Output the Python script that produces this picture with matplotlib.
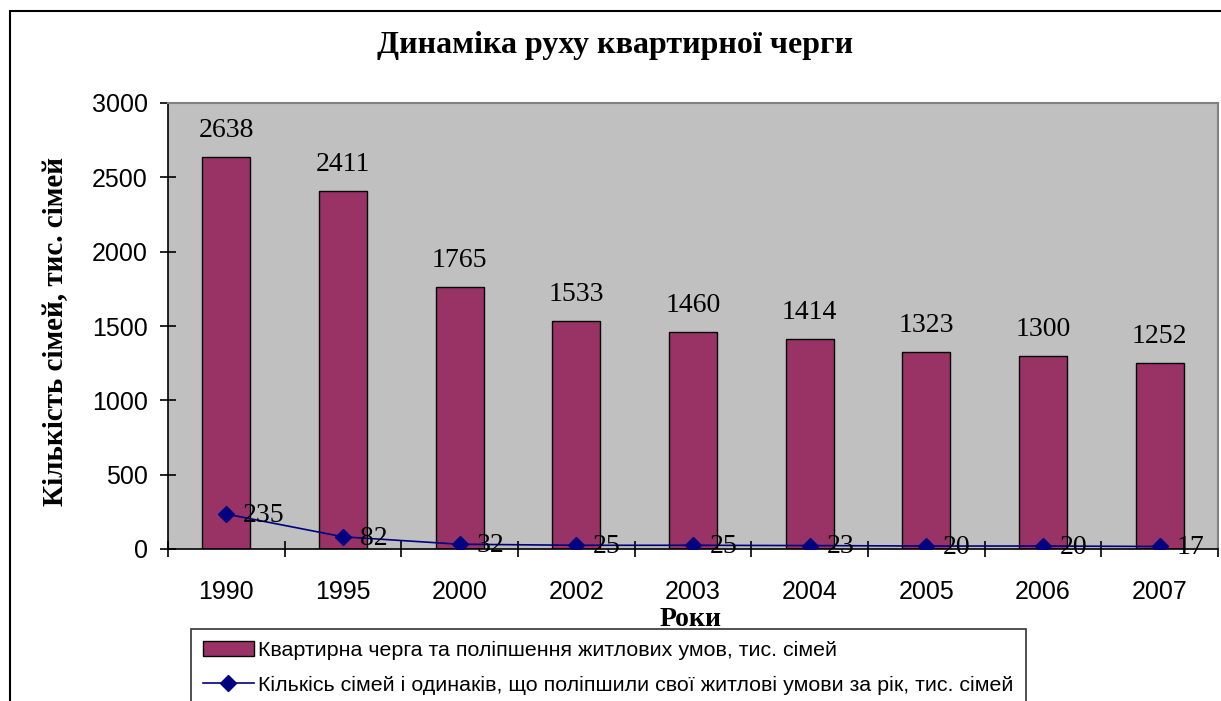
import matplotlib
matplotlib.use("Agg")
import matplotlib.pyplot as plt
from matplotlib.patches import Rectangle
from matplotlib.lines import Line2D

# ── data ──────────────────────────────────────────────────────────────────────
years = ["1990", "1995", "2000", "2002", "2003", "2004", "2005", "2006", "2007"]
queue = [2638, 2411, 1765, 1533, 1460, 1414, 1323, 1300, 1252]
improved = [235, 82, 32, 25, 25, 23, 20, 20, 17]

title = "Динаміка руху квартирної черги"
ylabel = "Кількість сімей, тис. сімей"
xlabel = "Роки"
bar_name = "Квартирна черга та поліпшення житлових умов, тис. сімей"
line_name = "Кількісь сімей і одинаків, що поліпшили свої житлові умови за рік, тис. сімей"

SERIF = ["Liberation Serif", "DejaVu Serif"]
SANS = ["Liberation Sans", "DejaVu Sans"]
NARROW = ["Liberation Sans Narrow", "Liberation Sans", "DejaVu Sans"]

W, H = 1221, 701
fig = plt.figure(figsize=(W / 100, H / 100), dpi=100)
fig.patch.set_facecolor("white")

# outer chart frame (cut at right and bottom like the original)
fig.patches.append(Rectangle((10 / W, -0.05), 1.2, 1 - 11 / H + 0.05,
                             transform=fig.transFigure, fill=False,
                             edgecolor="black", lw=1.5, clip_on=False))

ax = fig.add_axes([168 / W, (H - 549) / H, 1050 / W, 446 / H])
ax.set_facecolor("#C0C0C0")

x = list(range(len(years)))
ax.bar(x, queue, width=0.41, color="#993366", edgecolor="black", lw=1, zorder=2)
ax.plot(x, improved, color="#000080", lw=1.2, marker="D", ms=8,
        markerfacecolor="#000080", zorder=3)

for xi, v in zip(x, queue):
    ax.annotate(str(v), (xi, v), xytext=(0, 19), textcoords="offset points",
                ha="center", va="center", fontsize=20, family=SERIF, zorder=4)
for xi, v in zip(x, improved):
    ax.annotate(str(v), (xi, v), xytext=(12, -1), textcoords="offset points",
                ha="left", va="center", fontsize=20, family=SERIF, zorder=4)

ax.set_xlim(-0.5, len(years) - 0.5)
ax.set_ylim(0, 3000)
ax.set_yticks(range(0, 3001, 500))
ax.tick_params(axis="y", direction="inout", length=11, width=1.2,
               labelsize=18, pad=9)
for t in ax.get_yticklabels():
    t.set_family(SANS)

# boundary ticks on x axis, labels at category centres
ax.set_xticks([i - 0.5 for i in range(len(years) + 1)])
ax.set_xticklabels([])
ax.tick_params(axis="x", which="major", direction="inout", length=12, width=1.2)
ax.set_xticks(x, minor=True)
ax.set_xticklabels(years, minor=True)
ax.tick_params(axis="x", which="minor", length=0, labelsize=18, pad=22)
for t in ax.get_xticklabels(minor=True):
    t.set_family(SANS)

for s in ["top", "right"]:
    ax.spines[s].set_color("#808080")
    ax.spines[s].set_linewidth(1.5)
for s in ["left", "bottom"]:
    ax.spines[s].set_color("black")
    ax.spines[s].set_linewidth(1.2)

fig.text(615 / W, 1 - 46 / H, title, ha="center", va="center",
         fontsize=23, fontweight="bold", family=SERIF)
fig.text(56 / W, 1 - 331 / H, ylabel, ha="center", va="center", rotation=90,
         fontsize=21, fontweight="bold", family=SERIF)
fig.text(691 / W, 1 - 619 / H, xlabel, ha="center", va="center",
         fontsize=20, fontweight="bold", family=SERIF)

handles = [
    Rectangle((0, 0), 1, 1, facecolor="#993366", edgecolor="black", lw=1),
    Line2D([0], [0], color="#000080", lw=1.2, marker="D", ms=8,
           markerfacecolor="#000080"),
]
leg = fig.legend(handles, [bar_name, line_name], loc="upper left",
                 bbox_to_anchor=(191 / W, 1 - 629 / H),
                 prop={"family": NARROW, "size": 15.4}, frameon=True,
                 fancybox=False, edgecolor="black", handlelength=2.4,
                 handletextpad=0.2, borderpad=0.55, labelspacing=0.75,
                 borderaxespad=0)
leg.get_frame().set_linewidth(1.2)

fig.savefig("out.png", dpi=100)
